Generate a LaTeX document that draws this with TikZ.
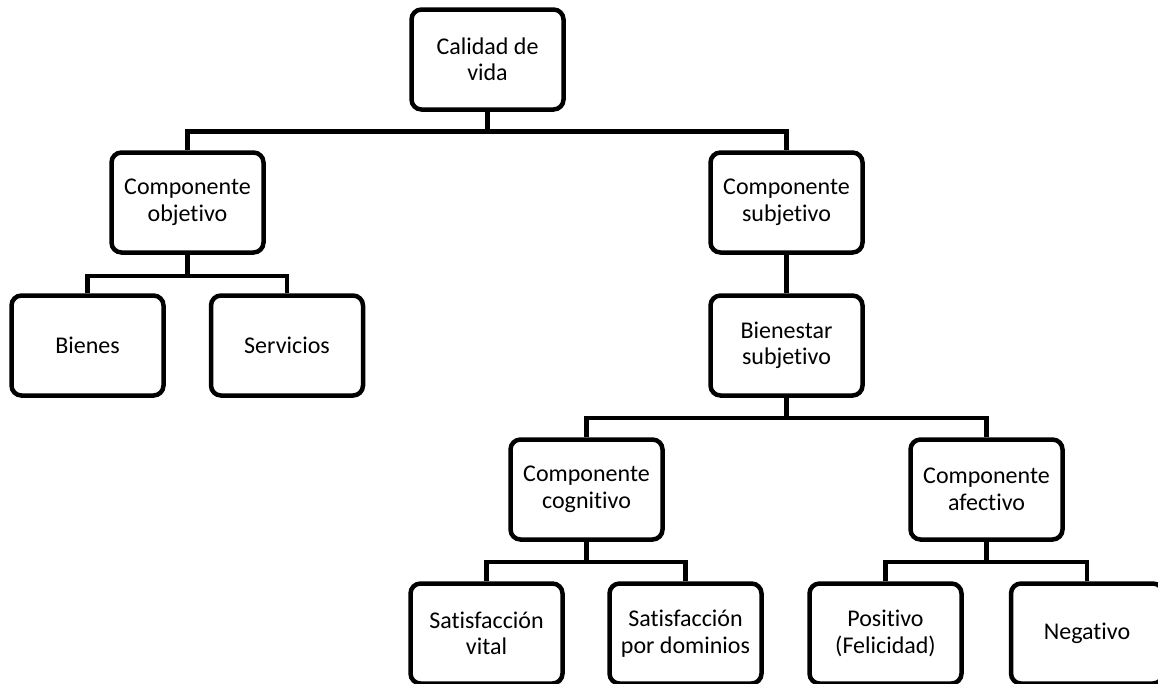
\documentclass[tikz,border=0pt]{standalone}
\usepackage{fontspec}
\setmainfont{Carlito}[Ligatures=NoCommon]
\usetikzlibrary{calc}
\tikzset{
  box/.style={draw=black, line width=4.5pt, rounded corners=10pt, fill=white,
    minimum width=152pt, minimum height=100pt, align=center, inner sep=2pt,
    font=\fontsize{24}{26.5}\selectfont},
  link/.style={draw=black, line width=4.5pt}
}
\begin{document}
\begin{tikzpicture}[x=1pt,y=-1pt]
\useasboundingbox (0,0) rectangle (1158,683);
\clip (0,0) rectangle (1158,683);
\fill[white] (0,0) rectangle (1158,683);
% nodes
\node[box] (cal)   at (487.5,59.5)  {Calidad de\\vida};
\node[box] (obj)   at (187.5,202.5) {Componente\\objetivo};
\node[box] (subj)  at (786.5,202.5) {Componente\\subjetivo};
\node[box] (bie)   at (87.5,345.5)  {Bienes};
\node[box] (ser)   at (287,345.5)   {Servicios};
\node[box] (bsub)  at (786.5,345.5) {Bienestar\\subjetivo};
\node[box] (cog)   at (586.5,489.5) {Componente\\cognitivo};
\node[box] (afe)   at (986.5,489.5) {Componente\\afectivo};
\node[box] (sv)    at (486.5,633.5) {Satisfacción\\vital};
\node[box] (sd)    at (685.5,633.5) {Satisfacción\\por dominios};
\node[box] (pos)   at (885.5,633.5) {Positivo\\(Felicidad)};
\node[box] (neg)   at (1087,633.5)  {Negativo};
% connectors
\draw[link] (cal.south) -- ++(0,19.5) coordinate (j1);
\draw[link] (obj.north) |- (j1) -| (subj.north);
\draw[link] (obj.south) -- ++(0,21) coordinate (j2);
\draw[link] (bie.north) |- (j2) -| (ser.north);
\draw[link] (subj.south) -- (bsub.north);
\draw[link] (bsub.south) -- ++(0,20) coordinate (j3);
\draw[link] (cog.north) |- (j3) -| (afe.north);
\draw[link] (cog.south) -- ++(0,20) coordinate (j4);
\draw[link] (sv.north) |- (j4) -| (sd.north);
\draw[link] (afe.south) -- ++(0,20) coordinate (j5);
\draw[link] (pos.north) |- (j5) -| (neg.north);
\end{tikzpicture}
\end{document}
